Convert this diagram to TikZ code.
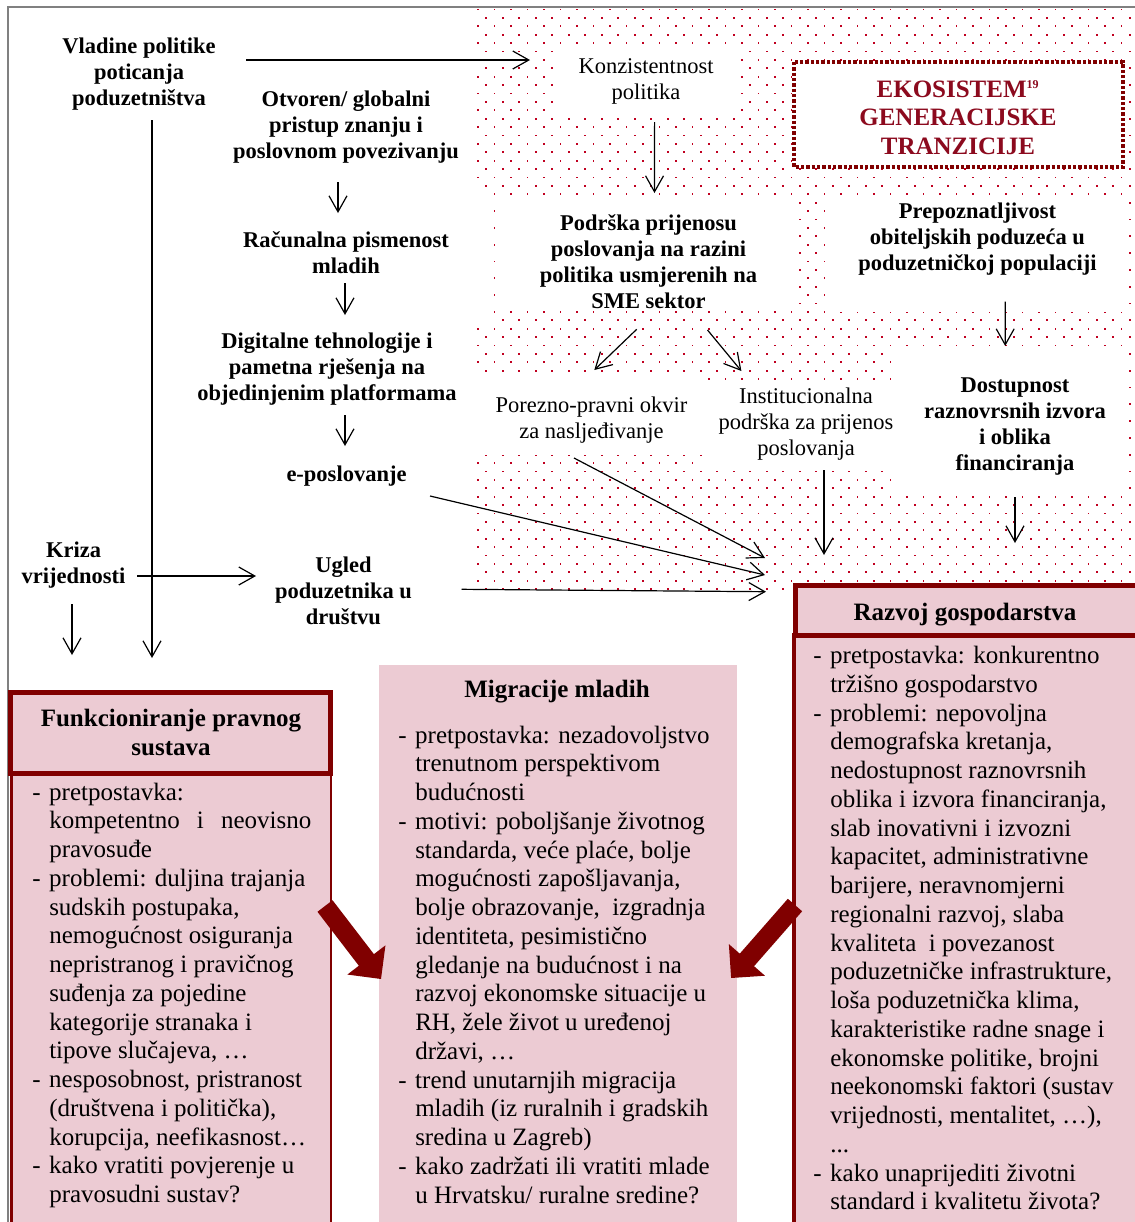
\documentclass[tikz,border=0pt]{standalone}
\usepackage{fontspec}
\setmainfont{Liberation Serif}
\usetikzlibrary{calc}
\usetikzlibrary{arrows.meta}
\definecolor{boxred}{RGB}{128,0,0}
\definecolor{ekored}{RGB}{140,10,30}
\definecolor{boxpink}{RGB}{236,203,211}
\definecolor{dotred}{RGB}{192,0,32}
\definecolor{framegray}{RGB}{128,128,128}
\newcommand*\flowfont{\fontsize{16.875}{19.5}\selectfont}
\newcommand*\boxfont{\fontsize{18.75}{21.5625}\selectfont}
\newcommand*\flowlines[1]{\begin{tabular}[t]{@{}c@{}}#1\end{tabular}}
\newcommand*\bodylist[1]{\begin{tabular}[t]{@{}p{12.75pt}@{}l@{}}#1\end{tabular}}

\begin{document}
\begin{tikzpicture}[x=0.75pt,y=-0.75pt,
  arr/.style={line width=0.9pt,-{Straight Barb[length=12pt,width=13.5pt]}},
  flow/.style={anchor=base,inner sep=0pt,font=\flowfont\bfseries},
  plain/.style={anchor=base,inner sep=0pt,font=\flowfont},
  title/.style={anchor=base,inner sep=0pt,font=\boxfont\bfseries},
  body/.style={anchor=base west,inner sep=0pt,font=\boxfont}]
\useasboundingbox (0,0) rectangle (1135,1222);
\clip (0,0) rectangle (1135,1222);
\fill [white] (0,0) rectangle (1135,1222);
%dotted field
\foreach \r in {0,...,69}
  \foreach \c in {0,...,40}
    \fill [dotred] ({477+16.5*\c+8.25*mod(\r,2)},{8.5+8.4*\r}) rectangle ++(1.9,1.9);
\fill [white] (553,47) rectangle (740,115);
\fill [white] (501,197) rectangle (797,309);
\fill [white] (830,197) rectangle (1124,312);
\fill [white] (470,378) rectangle (707,455);
\fill [white] (707,380) rectangle (896,470);
\fill [white] (896,353) rectangle (1124,495);
\fill [white] (470,187) rectangle (490,325);
\draw [fill=white,draw=boxred,line width=2.5pt,dash pattern=on 2.5pt off 1.5pt] (794,62) rectangle (1123,167);
%frame
\draw [framegray,line width=1.1pt] (8,1230) -- (8,7) -- (1140,7);
%boxes
\draw [fill=boxpink,draw=boxred,line width=1.9pt] (11.5,773) rectangle (331,1240);
\draw [fill=boxpink,draw=boxred,line width=3.75pt] (10.5,692.5) rectangle (330.5,773);
\fill [boxpink] (379,665) rectangle (737,1240);
\draw [fill=boxpink,draw=boxred,line width=3pt] (794,635) rectangle (1145,1240);
\draw [fill=boxpink,draw=boxred,line width=3.75pt] (795,585) rectangle (1145,635);
%left column
\node [flow] (vladine) at (139,53) {\flowlines{Vladine politike\\poticanja\\poduzetništva}};
\node [flow] (otvoren) at (346,106) {\flowlines{Otvoren/ globalni\\pristup znanju i\\poslovnom povezivanju}};
\node [flow] (racunalna) at (346,247) {\flowlines{Računalna pismenost\\mladih}};
\node [flow] (digitalne) at (327,348) {\flowlines{Digitalne tehnologije i\\pametna rješenja na\\objedinjenim platformama}};
\node [flow] (eposl) at (346.5,481) {\flowlines{e-poslovanje}};
\node [flow] (kriza) at (73.5,557) {\flowlines{Kriza\\vrijednosti}};
\node [flow] (ugled) at (343.5,572) {\flowlines{Ugled\\poduzetnika u\\društvu}};
%ecosystem
\node [plain] (konz) at (646,73) {\flowlines{Konzistentnost\\politika}};
\node [title,text=ekored] (eko) at (958,97) {\flowlines{EKOSISTEM\textsuperscript{\fontsize{9}{10}\selectfont 19}\\GENERACIJSKE\\TRANZICIJE}};
\node [flow] (podrska) at (648.5,230) {\flowlines{Podrška prijenosu\\poslovanja na razini\\politika usmjerenih na\\SME sektor}};
\node [flow] (prepoz) at (977.5,218) {\flowlines{Prepoznatljivost\\obiteljskih poduzeća u\\poduzetničkoj populaciji}};
\node [plain] (porezno) at (591.5,412) {\flowlines{Porezno-pravni okvir\\za nasljeđivanje}};
\node [plain] (instit) at (806,403) {\flowlines{Institucionalna\\podrška za prijenos\\poslovanja}};
\node [flow] (dostup) at (1015,392) {\flowlines{Dostupnost\\raznovrsnih izvora\\i oblika\\financiranja}};
%titles
\node [title] (funkt) at (171,726.6) {\flowlines{Funkcioniranje pravnog\\sustava}};
\node [title] (migt) at (557,697.4) {Migracije mladih};
\node [title] (razvt) at (965,620) {Razvoj gospodarstva};
%lists
\node [body] (funkb) at (32,800) {\bodylist{
- & pretpostavka:\\
  & \makebox[196.5pt][s]{kompetentno i neovisno}\\
  & pravosuđe\\
- & problemi: duljina trajanja\\
  & sudskih postupaka,\\
  & nemogućnost osiguranja\\
  & nepristranog i pravičnog\\
  & suđenja za pojedine\\
  & kategorije stranaka i\\
  & tipove slučajeva, …\\
- & nesposobnost, pristranost\\
  & (društvena i politička),\\
  & korupcija, neefikasnost…\\
- & kako vratiti povjerenje u\\
  & pravosudni sustav?}};
\node [body] (migb) at (398,743) {\bodylist{
- & pretpostavka: nezadovoljstvo\\
  & trenutnom perspektivom\\
  & budućnosti\\
- & motivi: poboljšanje životnog\\
  & standarda, veće plaće, bolje\\
  & mogućnosti zapošljavanja,\\
  & bolje obrazovanje,\ \ izgradnja\\
  & identiteta, pesimistično\\
  & gledanje na budućnost i na\\
  & razvoj ekonomske situacije u\\
  & RH, žele život u uređenoj\\
  & državi, …\\
- & trend unutarnjih migracija\\
  & mladih (iz ruralnih i gradskih\\
  & sredina u Zagreb)\\
- & kako zadržati ili vratiti mlade\\
  & u Hrvatsku/ ruralne sredine?}};
\node [body] (razvb) at (813,663.5) {\bodylist{
- & pretpostavka: konkurentno\\
  & tržišno gospodarstvo\\
- & problemi: nepovoljna\\
  & demografska kretanja,\\
  & nedostupnost raznovrsnih\\
  & oblika i izvora financiranja,\\
  & slab inovativni i izvozni\\
  & kapacitet, administrativne\\
  & barijere, neravnomjerni\\
  & regionalni razvoj, slaba\\
  & kvaliteta\ \ i povezanost\\
  & poduzetničke infrastrukture,\\
  & loša poduzetnička klima,\\
  & karakteristike radne snage i\\
  & ekonomske politike, brojni\\
  & neekonomski faktori (sustav\\
  & vrijednosti, mentalitet, …),\\
  & ...\\
- & kako unaprijediti životni\\
  & standard i kvalitetu života?}};
%arrows
\draw [arr] ($(vladine.base)+(107,7)$) -- ($(konz.base)+(-116,-13)$);
\draw [arr] ($(vladine.base)+(13,67)$) -- ($(funkt.base)+(-19,-68.6)$);
\draw [arr] ($(kriza.base)+(63.5,19)$) -- ($(ugled.base)+(-87.5,4)$);
\draw [arr] ($(kriza.base)+(-1.5,47)$) -- ($(funkt.base)+(-99,-71.6)$);
\draw [arr] ($(otvoren.base)+(-8,76)$) -- ($(racunalna.base)+(-8,-34)$);
\draw [arr] ($(racunalna.base)+(-1,36)$) -- ($(digitalne.base)+(18,-33)$);
\draw [arr] ($(digitalne.base)+(18,67)$) -- ($(eposl.base)+(-1.5,-35)$);
\draw [arr] ($(konz.base)+(8.6,49)$) -- ($(podrska.base)+(6,-37)$);
\draw [arr] ($(podrska.base)+(-11.8,99.3)$) -- ($(porezno.base)+(2.8,-42)$);
\draw [arr] ($(podrska.base)+(59,100)$) -- ($(instit.base)+(-64.6,-32)$);
\draw [arr] ($(prepoz.base)+(27.7,83.7)$) -- ($(dostup.base)+(-9.8,-46)$);
\draw [arr] ($(porezno.base)+(-17.5,46)$) -- ($(razvt.base)+(-200,-62)$);
\draw [arr] ($(eposl.base)+(83.5,15)$) -- ($(razvt.base)+(-200,-45)$);
\draw [arr] ($(ugled.base)+(118,17.3)$) -- ($(razvt.base)+(-199,-28.3)$);
\draw [arr] ($(instit.base)+(18,67)$) -- ($(razvt.base)+(-141,-65)$);
\draw [arr] ($(dostup.base)+(0,105)$) -- ($(razvt.base)+(50,-77)$);
%block arrows
\begin{scope}[shift={(325,906)},rotate=-52.5]
\fill [boxred] (0,-9.5) -- (68,-9.5) -- (68,-24) -- (92,0) -- (68,24) -- (68,9.5) -- (0,9.5) -- cycle;
\end{scope}
\begin{scope}[shift={(795,905)},rotate=-131.2]
\fill [boxred] (0,-9.5) -- (73,-9.5) -- (73,-24) -- (97,0) -- (73,24) -- (73,9.5) -- (0,9.5) -- cycle;
\end{scope}
\end{tikzpicture}
\end{document}
